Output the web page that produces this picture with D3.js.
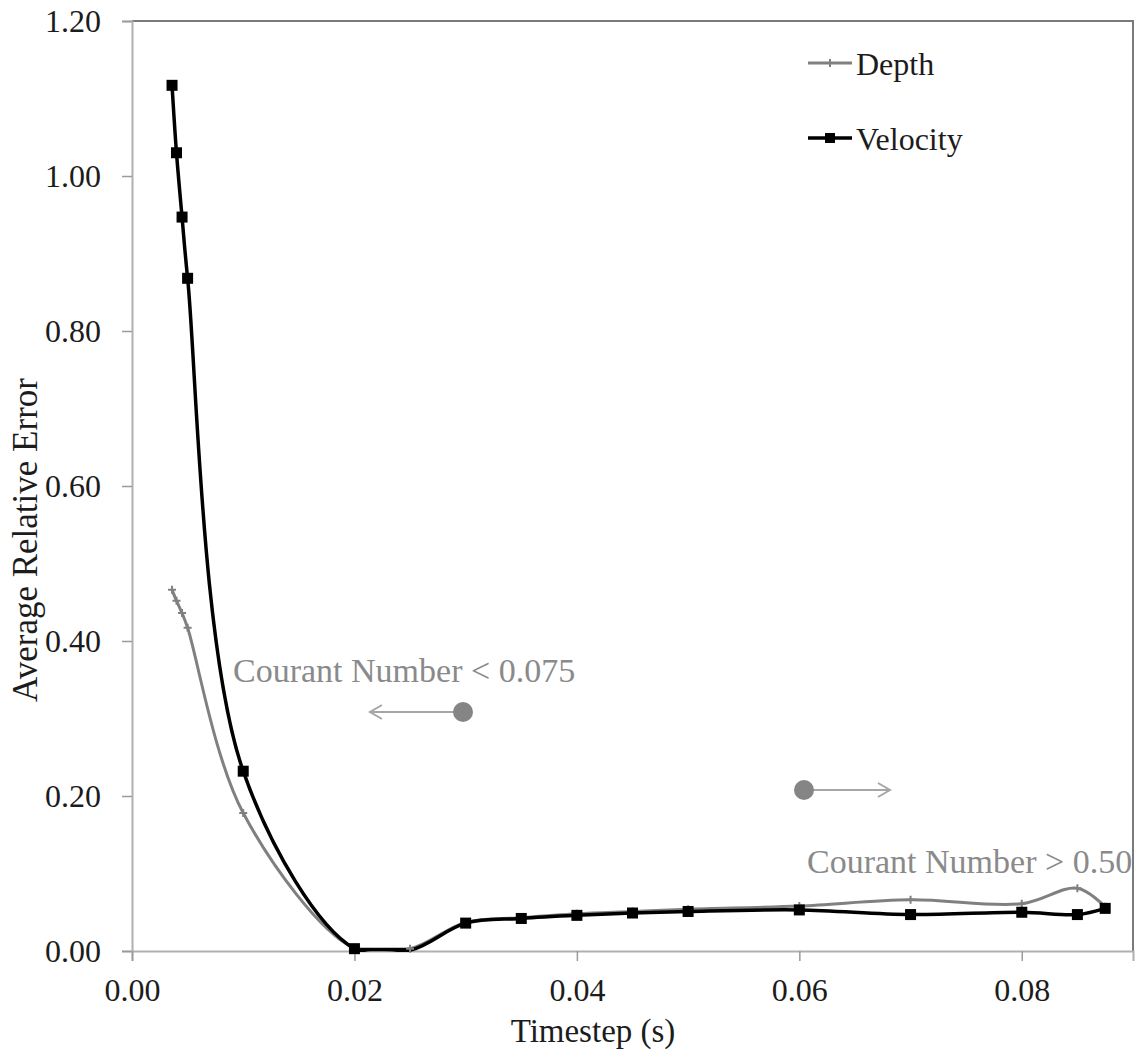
<!DOCTYPE html>
<html>
<head>
<meta charset="utf-8">
<script src="https://cdn.jsdelivr.net/npm/d3@7/dist/d3.min.js"></script>
<style>
  html, body { margin: 0; padding: 0; background: #fff; }
  svg { display: block; }
  text { font-family: "Liberation Serif", "Times New Roman", serif; }
</style>
</head>
<body>
<svg id="chart" width="1136" height="1053"></svg>
<script>
// Timestep values (s) shared by both series
const timesteps = [0.0036, 0.0040, 0.0045, 0.0050, 0.010, 0.020, 0.025, 0.030, 0.035,
                   0.040, 0.045, 0.050, 0.060, 0.070, 0.080, 0.085, 0.0875];
// Average relative error for each series
const depthError = [0.466, 0.452, 0.436, 0.417, 0.178, 0.003, 0.003, 0.037, 0.043,
                    0.048, 0.051, 0.054, 0.058, 0.066, 0.061, 0.081, 0.057];
const velocityError = [1.117, 1.030, 0.947, 0.868, 0.232, 0.003, 0.001, 0.036, 0.042,
                       0.046, 0.049, 0.051, 0.053, 0.047, 0.050, 0.047, 0.055];
// Whether each velocity point carries a visible marker
const velocityMarked = [1, 1, 1, 1, 1, 1, 0, 1, 1, 1, 1, 1, 1, 1, 1, 1, 1];
const seriesNames = ["Depth", "Velocity"];
const xTicks = [0.00, 0.02, 0.04, 0.06, 0.08];
const yTicks = [0.00, 0.20, 0.40, 0.60, 0.80, 1.00, 1.20];
const annotationLabels = ["Courant Number < 0.075", "Courant Number > 0.50"];

const svg = d3.select("#chart");
const plotLeft = 132, plotRight = 1133, plotTop = 21, plotBottom = 951;

const x = d3.scaleLinear().domain([0, 0.09]).range([plotLeft, plotRight]);
const y = d3.scaleLinear().domain([0, 1.2]).range([plotBottom, plotTop]);

const textColor = "#1c1c1c";

// Series are clipped to the plot area (plus a sliver for the stroke)
svg.append("defs").append("clipPath").attr("id", "plot-clip")
  .append("rect").attr("x", plotLeft).attr("y", plotTop)
  .attr("width", plotRight - plotLeft).attr("height", plotBottom - plotTop + 1);

// Plot frame: top and right borders
svg.append("path")
  .attr("d", `M${plotLeft},${plotTop}H${plotRight}V${plotBottom}`)
  .attr("fill", "none").attr("stroke", "#7a7a7a").attr("stroke-width", 2);

// Y axis
const yAxis = svg.append("g").attr("transform", `translate(${plotLeft},0)`)
  .call(d3.axisLeft(y).tickValues(yTicks).tickFormat(d3.format(".2f")).tickSize(10).tickPadding(21));
yAxis.select(".domain").attr("stroke", "#b0b0b0").attr("stroke-width", 2);
yAxis.selectAll(".tick line").attr("stroke", "#9a9a9a").attr("stroke-width", 1.5);
yAxis.selectAll(".tick text").attr("font-size", 32).attr("fill", textColor)
  .attr("font-family", "Liberation Serif").attr("dy", "0.34em");

// X axis
const xAxis = svg.append("g").attr("transform", `translate(0,${plotBottom})`)
  .call(d3.axisBottom(x).tickValues(xTicks).tickFormat(d3.format(".2f")).tickSize(10).tickPadding(24));
xAxis.select(".domain").attr("stroke", "#b0b0b0").attr("stroke-width", 2);
xAxis.selectAll(".tick line").attr("stroke", "#9a9a9a").attr("stroke-width", 1.5);
xAxis.selectAll(".tick text").attr("font-size", 32).attr("fill", textColor)
  .attr("font-family", "Liberation Serif").attr("dy", "0.5em");

// Axis titles
svg.append("text")
  .attr("transform", "translate(37,540) rotate(-90)")
  .attr("text-anchor", "middle").attr("font-size", 35).attr("fill", textColor)
  .text("Average Relative Error");
svg.append("text")
  .attr("x", 593).attr("y", 1042)
  .attr("text-anchor", "middle").attr("font-size", 33).attr("fill", textColor)
  .text("Timestep (s)");

// Series lines (smoothed)
const depthColor = "#808080", velocityColor = "#000000";
const line = d3.line().x(d => x(d[0])).y(d => y(d[1])).curve(d3.curveCatmullRom.alpha(0.5));
const depthData = d3.zip(timesteps, depthError);
const velocityData = d3.zip(timesteps, velocityError, velocityMarked);

const series = svg.append("g").attr("clip-path", "url(#plot-clip)");

series.append("path").datum(depthData).attr("d", line)
  .attr("fill", "none").attr("stroke", depthColor).attr("stroke-width", 3);

// Depth markers: small crosses
const plus = (g, cx, cy, s, color) => {
  g.append("path")
    .attr("d", `M${cx - s},${cy}H${cx + s}M${cx},${cy - s}V${cy + s}`)
    .attr("stroke", color).attr("stroke-width", 2);
};
const depthMarks = svg.append("g");
depthData.forEach(d => plus(depthMarks, x(d[0]), y(d[1]), 4, depthColor));

series.append("path").datum(velocityData).attr("d", line)
  .attr("fill", "none").attr("stroke", velocityColor).attr("stroke-width", 3.5);

// Where the smoothed curve runs below zero it lies along the axis
series.append("path").datum(velocityData.slice(5, 7)).attr("d", d3.line().x(d => x(d[0])).y(() => y(0) - 1.5))
  .attr("fill", "none").attr("stroke", velocityColor).attr("stroke-width", 3.5);

svg.append("g").selectAll("rect").data(velocityData.filter(d => d[2])).join("rect")
  .attr("x", d => x(d[0]) - 5.5).attr("y", d => y(d[1]) - 5.5)
  .attr("width", 11).attr("height", 11).attr("fill", velocityColor);

// Legend
const legend = svg.append("g");
const legendRows = [
  { name: seriesNames[0], color: depthColor, yPos: 63, w: 3 },
  { name: seriesNames[1], color: velocityColor, yPos: 138, w: 3.5 }
];
legendRows.forEach((r, i) => {
  legend.append("line").attr("x1", 808).attr("x2", 852).attr("y1", r.yPos).attr("y2", r.yPos)
    .attr("stroke", r.color).attr("stroke-width", r.w);
  if (i === 0) plus(legend, 830, r.yPos, 4, r.color);
  else legend.append("rect").attr("x", 825).attr("y", r.yPos - 5).attr("width", 10).attr("height", 10).attr("fill", r.color);
  legend.append("text").attr("x", 856).attr("y", r.yPos + 12)
    .attr("font-size", 32).attr("fill", textColor).text(r.name);
});

// Courant number annotations
const noteColor = "#8a8a8a";
const arrowColor = "#a6a6a6";
const notes = [
  { label: annotationLabels[0], tx: 233, ty: 682, cx: 463, cy: 712, ax: 370 },
  { label: annotationLabels[1], tx: 807, ty: 873, cx: 804, cy: 790, ax: 890 }
];
notes.forEach(n => {
  svg.append("text").attr("x", n.tx).attr("y", n.ty)
    .attr("font-size", 34).attr("fill", noteColor).text(n.label);
  const dir = n.ax < n.cx ? 1 : -1;
  svg.append("line").attr("x1", n.cx).attr("y1", n.cy).attr("x2", n.ax).attr("y2", n.cy)
    .attr("stroke", arrowColor).attr("stroke-width", 2);
  svg.append("path")
    .attr("d", `M${n.ax + dir * 12},${n.cy - 7}L${n.ax},${n.cy}L${n.ax + dir * 12},${n.cy + 7}`)
    .attr("fill", "none").attr("stroke", arrowColor).attr("stroke-width", 2);
  svg.append("circle").attr("cx", n.cx).attr("cy", n.cy).attr("r", 10).attr("fill", "#858585");
});
</script>
</body>
</html>
